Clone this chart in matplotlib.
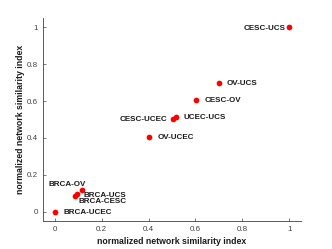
import matplotlib
matplotlib.use("Agg")
import matplotlib.pyplot as plt

pairs = ["CESC-UCS", "OV-UCS", "CESC-OV", "UCEC-UCS", "CESC-UCEC", "OV-UCEC",
         "BRCA-OV", "BRCA-UCS", "BRCA-CESC", "BRCA-UCEC"]
x_vals = [1.0, 0.699, 0.604, 0.515, 0.503, 0.404, 0.117, 0.097, 0.087, 0.0]
y_vals = [1.0, 0.700, 0.606, 0.514, 0.505, 0.406, 0.117, 0.096, 0.087, 0.0]
x_ticks = [0, 0.2, 0.4, 0.6, 0.8, 1]
x_tick_labels = ["0", "0.2", "0.4", "0.6", "0.8", "1"]
y_ticks = [0, 0.2, 0.4, 0.6, 0.8, 1]
y_tick_labels = ["0", "0.2", "0.4", "0.6", "0.8", "1"]
x_label = "normalized network similarity index"
y_label = "normalized network similarity index"

# label placement (pixel offsets, alignment)
label_offsets = {
    "CESC-UCS": (-4, -1, "right"),
    "OV-UCS": (8, -1, "left"),
    "CESC-OV": (8, -1, "left"),
    "UCEC-UCS": (8, -0.7, "left"),
    "CESC-UCEC": (-5.5, -1, "right"),
    "OV-UCEC": (8, -0.7, "left"),
    "BRCA-OV": (3.7, 5.3, "right"),
    "BRCA-UCS": (5.7, -1.7, "left"),
    "BRCA-CESC": (3.7, -6, "left"),
    "BRCA-UCEC": (8.3, -0.5, "left"),
}

plt.rcParams["font.family"] = ["Liberation Sans", "DejaVu Sans"]
fig = plt.figure(figsize=(3.32, 2.49), dpi=100)
ax = fig.add_axes([43/332, 28/249, 258/332, 203/249])
axcol = "#404040"
ax.scatter(x_vals, y_vals, s=17, color="#ff0000", zorder=3, linewidths=0)
for name, x, y in zip(pairs, x_vals, y_vals):
    dx, dy, ha = label_offsets[name]
    ax.annotate(name, (x, y), xytext=(dx, dy), textcoords="offset pixels",
                ha=ha, va="center", fontsize=5.8, fontweight="bold", color="#1a1a1a")

ax.set_xlim(-0.05, 1.05)
ax.set_ylim(-0.05, 1.05)
ax.set_xticks(x_ticks)
ax.set_xticklabels(x_tick_labels)
ax.set_yticks(y_ticks)
ax.set_yticklabels(y_tick_labels)
for s in ["top", "right"]:
    ax.spines[s].set_visible(False)
for s in ["left", "bottom"]:
    ax.spines[s].set_linewidth(0.6)
    ax.spines[s].set_color(axcol)
ax.tick_params(direction="in", length=2, width=0.5, colors=axcol, labelsize=5.8, pad=3.5)
ax.set_xlabel(x_label, fontsize=6.3, fontweight="bold", color="#1a1a1a", labelpad=3)
ax.set_ylabel(y_label, fontsize=6.3, fontweight="bold", color="#1a1a1a", labelpad=1.5)
fig.savefig("out.png", dpi=100)
